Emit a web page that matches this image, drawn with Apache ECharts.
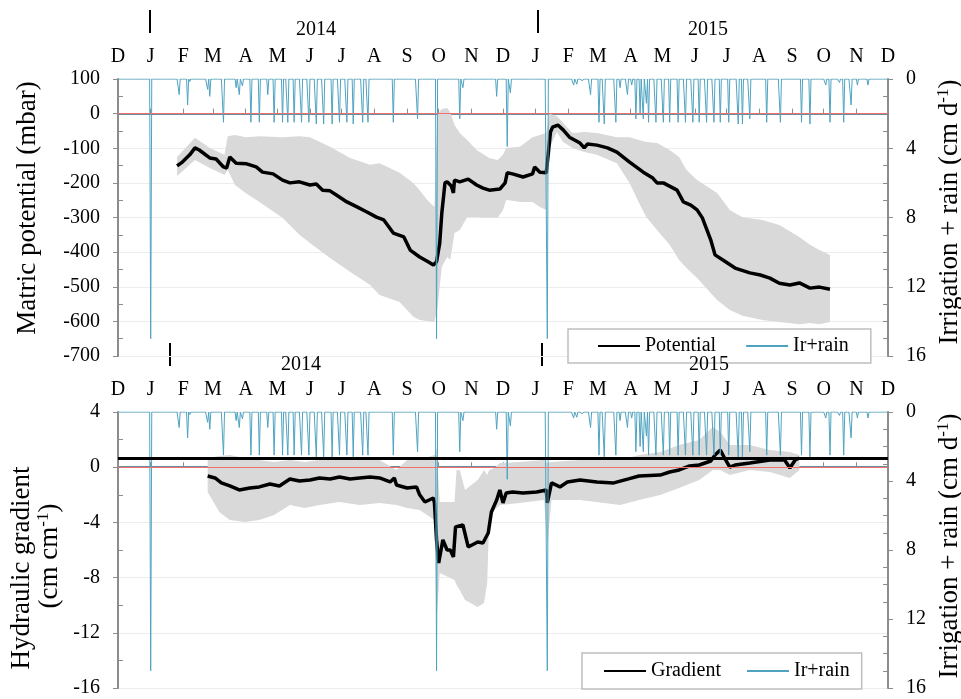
<!DOCTYPE html>
<html>
<head>
<meta charset="utf-8">
<script src="https://cdn.jsdelivr.net/npm/echarts@6/dist/echarts.min.js"></script>
<style>
html, body { margin: 0; padding: 0; background: #fff; }
#chart { width: 961px; height: 699px; }
</style>
</head>
<body>
<div id="chart"></div>
<script>
// irrigation + rain events (cm/d), all other days are 0
var irrDates = ['2014-01-01','2014-01-28','2014-02-05','2014-02-07','2014-02-24','2014-02-26','2014-03-11','2014-03-23','2014-03-26','2014-03-29',
  '2014-04-06','2014-04-14','2014-04-22','2014-04-28','2014-05-06','2014-05-11','2014-05-17','2014-05-24','2014-05-31','2014-06-07',
  '2014-06-14','2014-06-22','2014-06-29','2014-07-06','2014-07-12','2014-07-21','2014-07-26','2014-08-19','2014-09-11','2014-09-29',
  '2014-10-21','2014-10-24','2014-11-25','2014-12-05','2014-12-08','2015-01-12','2015-02-06','2015-02-09','2015-02-14','2015-02-22',
  '2015-03-02','2015-03-07','2015-03-18','2015-03-22','2015-03-29','2015-04-02','2015-04-06','2015-04-10','2015-04-13','2015-04-16',
  '2015-04-18','2015-04-25','2015-05-02','2015-05-08','2015-05-16','2015-05-23','2015-05-30','2015-06-05','2015-06-12','2015-06-19',
  '2015-06-25','2015-07-03','2015-07-12','2015-07-16','2015-07-23','2015-08-08','2015-08-21','2015-09-10','2015-09-18','2015-10-03',
  '2015-10-07','2015-10-16','2015-10-20','2015-10-27','2015-11-02','2015-11-12'];
var irrVals = [15.0,0.9,1.5,0.15,0.6,1.0,2.5,0.5,0.9,0.4,
  2.5,2.5,0.9,2.5,2.5,2.5,2.5,2.5,2.5,2.6,
  2.6,2.6,2.5,2.5,2.6,2.5,2.5,2.5,2.3,15.0,
  2.3,0.5,1.0,3.9,0.8,15.0,0.35,0.3,0.1,0.9,
  2.5,2.6,2.5,0.5,0.9,0.35,2.3,2.0,2.3,1.4,
  2.5,2.5,2.5,2.5,2.5,2.5,2.5,2.5,2.5,2.5,
  2.5,2.5,2.6,2.6,2.3,2.5,2.5,2.5,2.6,0.35,
  2.5,0.2,2.5,1.5,0.35,0.35];

// matric potential (mbar)
var potDates = ['2014-01-26','2014-01-31','2014-02-07','2014-02-12','2014-02-16','2014-02-26','2014-03-04','2014-03-11','2014-03-14','2014-03-17',
  '2014-03-23','2014-04-02','2014-04-11','2014-04-17','2014-04-27','2014-05-06','2014-05-13','2014-05-22','2014-06-01','2014-06-07',
  '2014-06-13','2014-06-20','2014-06-26','2014-07-06','2014-07-16','2014-07-25','2014-08-03','2014-08-10','2014-08-19','2014-08-29',
  '2014-09-04','2014-09-13','2014-09-21','2014-09-26','2014-09-29','2014-10-02','2014-10-04','2014-10-07','2014-10-09','2014-10-13',
  '2014-10-15','2014-10-16','2014-10-21','2014-10-29','2014-11-06','2014-11-12','2014-11-18','2014-11-28','2014-12-03','2014-12-05',
  '2014-12-10','2014-12-20','2014-12-29','2014-12-31','2015-01-05','2015-01-11','2015-01-13','2015-01-15','2015-01-17','2015-01-22',
  '2015-01-27','2015-02-02','2015-02-12','2015-02-16','2015-02-19','2015-02-28','2015-03-10','2015-03-19','2015-03-31','2015-04-13',
  '2015-04-22','2015-04-26','2015-05-02','2015-05-15','2015-05-21','2015-05-28','2015-06-03','2015-06-08','2015-06-16','2015-06-20',
  '2015-06-30','2015-07-09','2015-07-23','2015-08-02','2015-08-11','2015-08-20','2015-08-30','2015-09-08','2015-09-18','2015-09-27',
  '2015-10-07'];
var potVals = [-151,-140,-119,-99,-105,-128,-131,-154,-157,-125,
  -143,-145,-154,-169,-174,-192,-200,-197,-206,-203,
  -221,-223,-235,-255,-270,-284,-299,-307,-345,-356,
  -394,-414,-428,-437,-428,-374,-287,-200,-197,-209,
  -229,-192,-197,-189,-206,-215,-221,-218,-200,-171,
  -174,-183,-174,-154,-169,-171,-114,-53,-39,-33,
  -47,-68,-85,-99,-88,-91,-99,-111,-140,-169,
  -186,-200,-200,-221,-255,-264,-278,-301,-365,-408,
  -428,-446,-460,-466,-475,-490,-495,-489,-504,-501,
  -507];

// range of potential (min / max of sensors)
var potBandDates = ['2014-01-26','2014-02-12','2014-02-26','2014-03-12','2014-03-15','2014-03-22','2014-04-01','2014-04-14','2014-05-06','2014-05-22',
  '2014-06-01','2014-06-20','2014-07-09','2014-07-28','2014-08-06','2014-08-25','2014-09-07','2014-09-13','2014-09-20','2014-09-27',
  '2014-09-30','2014-10-04','2014-10-09','2014-10-12','2014-10-16','2014-10-21','2014-10-28','2014-11-06','2014-11-18','2014-11-26',
  '2014-12-01','2014-12-04','2014-12-17','2014-12-29','2015-01-05','2015-01-11','2015-01-14','2015-01-21','2015-01-27','2015-02-05',
  '2015-02-16','2015-02-28','2015-03-19','2015-03-31','2015-04-09','2015-04-16','2015-04-26','2015-05-08','2015-05-17','2015-05-24',
  '2015-06-03','2015-06-22','2015-07-04','2015-07-16','2015-08-04','2015-08-20','2015-09-08','2015-09-18','2015-09-27','2015-10-07'];
var potBandLo = [-180,-134,-157,-177,-163,-206,-229,-255,-301,-350,
  -374,-417,-457,-495,-524,-544,-587,-596,-599,-602,
  -558,-443,-414,-423,-345,-336,-299,-299,-301,-301,
  -278,-249,-255,-255,-270,-278,-99,-53,-82,-99,
  -111,-119,-143,-200,-258,-299,-336,-379,-423,-446,
  -475,-538,-567,-584,-596,-602,-608,-605,-608,-602];
var potBandHi = [-125,-70,-99,-119,-65,-62,-68,-65,-68,-65,
  -68,-96,-128,-148,-143,-171,-200,-221,-249,-270,
  0,13,16,5,-33,-56,-76,-105,-128,-134,
  -119,-99,-96,-68,-62,-56,0,-7,-27,-56,
  -53,-56,-68,-68,-76,-82,-85,-105,-125,-163,
  -192,-229,-278,-299,-307,-322,-356,-379,-394,-408];

// hydraulic gradient (cm/cm)
var gradDates = ['2014-02-24','2014-03-03','2014-03-09','2014-03-17','2014-03-26','2014-04-05','2014-04-14','2014-04-24','2014-05-03','2014-05-13',
  '2014-05-22','2014-06-01','2014-06-10','2014-06-20','2014-06-29','2014-07-09','2014-07-18','2014-07-28','2014-08-06','2014-08-16',
  '2014-08-20','2014-08-22','2014-09-01','2014-09-10','2014-09-13','2014-09-18','2014-09-26','2014-09-27','2014-09-29','2014-10-01',
  '2014-10-05','2014-10-09','2014-10-12','2014-10-15','2014-10-17','2014-10-24','2014-10-29','2014-11-07','2014-11-12','2014-11-17',
  '2014-11-20','2014-11-25','2014-11-28','2014-12-01','2014-12-04','2014-12-10','2014-12-20','2015-01-02','2015-01-11','2015-01-12',
  '2015-01-16','2015-01-24','2015-01-31','2015-02-12','2015-02-28','2015-03-16','2015-03-30','2015-04-09','2015-04-29','2015-05-08',
  '2015-05-17','2015-05-27','2015-06-05','2015-06-16','2015-06-20','2015-06-25','2015-06-29','2015-07-04','2015-07-09','2015-07-23',
  '2015-08-11','2015-08-25','2015-08-30','2015-09-04','2015-09-08'];
var gradVals = [-0.64,-0.78,-1.14,-1.36,-1.65,-1.51,-1.43,-1.22,-1.36,-0.85,
  -1.0,-0.93,-0.78,-0.85,-0.71,-0.85,-0.78,-0.71,-0.78,-1.07,
  -0.78,-1.29,-1.51,-1.43,-2.0,-2.52,-2.23,-2.59,-5.27,-6.94,
  -5.27,-6.0,-6.0,-6.5,-4.33,-4.19,-5.78,-5.42,-5.49,-4.77,
  -3.25,-2.38,-1.65,-2.59,-1.87,-1.8,-1.87,-1.8,-1.65,-2.59,
  -1.14,-1.43,-1.07,-0.93,-1.07,-1.14,-0.85,-0.64,-0.57,-0.35,
  -0.2,0.09,0.16,0.45,0.88,1.25,0.67,0.0,0.16,0.3,
  0.52,0.52,-0.06,0.52,0.67];
var unitGradient = 0.65;

var gradBandDates = ['2014-02-24','2014-03-07','2014-03-17','2014-03-31','2014-04-14','2014-04-28','2014-05-13','2014-05-27','2014-06-10','2014-06-29',
  '2014-07-18','2014-08-06','2014-08-22','2014-09-01','2014-09-13','2014-09-27','2014-09-29','2014-10-02','2014-10-16','2014-10-18',
  '2014-10-21','2014-10-26','2014-11-07','2014-11-13','2014-11-16','2014-11-18','2014-11-23','2014-11-28','2014-12-17','2015-01-09',
  '2015-01-12','2015-01-16','2015-02-12','2015-03-22','2015-04-09','2015-04-29','2015-05-17','2015-06-05','2015-06-18','2015-06-25',
  '2015-07-04','2015-07-23','2015-08-11','2015-08-30','2015-09-08'];
var gradBandLo = [-1.8,-3.25,-3.83,-3.97,-3.83,-3.46,-2.74,-2.96,-2.74,-2.52,
  -2.74,-2.59,-2.74,-2.96,-3.1,-3.83,-11.07,-7.67,-8.17,-8.54,
  -8.9,-9.62,-10.13,-9.84,-8.39,-3.61,-3.1,-2.74,-2.59,-2.38,
  -5.64,-2.38,-2.38,-2.74,-2.38,-2.01,-1.51,-0.93,-0.2,-0.2,
  -0.57,-0.2,-0.35,-0.78,-0.2];
var gradBandHi = [0.67,0.81,0.88,0.67,0.52,0.38,0.52,0.38,0.52,0.67,
  0.52,0.52,-0.2,0.52,0.52,0.88,1.39,-2.52,-2.52,-0.2,
  -0.2,-1.65,-0.93,-0.2,-0.57,-0.2,-0.06,0.3,0.38,0.52,
  0.3,0.38,0.52,0.52,0.88,1.1,1.61,1.97,2.91,2.55,
  1.61,1.61,1.25,1.1,0.88];

var monthLetters = ['J','F','M','A','M','J','J','A','S','O','N','D'];
var xStart = '2013-12-01', xEnd = '2015-12-01';

var serif = 'Liberation Serif';
var axisGray = '#8c8c8c';
var irrColor = '#4fa3c0';

function pad(n) { return n < 10 ? '0' + n : '' + n; }
function zip(a, b) { return a.map(function (d, i) { return [d, b[i]]; }); }
function diff(hi, lo) { return hi.map(function (v, i) { return +(v - lo[i]).toFixed(2); }); }

function dailyIrr() {
  var map = {};
  irrDates.forEach(function (d, i) { map[d] = irrVals[i]; });
  var out = [];
  var t = new Date(2013, 11, 1);
  var end = new Date(2015, 11, 1);
  while (t <= end) {
    var key = t.getFullYear() + '-' + pad(t.getMonth() + 1) + '-' + pad(t.getDate());
    out.push([key, map[key] || 0]);
    t.setDate(t.getDate() + 1);
  }
  return out;
}
var irrData = dailyIrr();

function xAxisFor(grid) {
  return {
    type: 'time', gridIndex: grid, position: 'top',
    min: xStart, max: xEnd,
    minInterval: 28 * 86400000, maxInterval: 31 * 86400000,
    axisLine: { show: true, lineStyle: { color: '#6b8e98', width: 2 } },
    axisTick: { show: true, length: 5, lineStyle: { color: axisGray } },
    splitLine: { show: false },
    axisLabel: {
      show: true, interval: 0, margin: 12, showMinLabel: true, showMaxLabel: true, hideOverlap: false,
      fontFamily: serif, fontSize: 20, color: '#000',
      formatter: function (val) {
        var d = new Date(val);
        return d.getDate() === 1 ? monthLetters[d.getMonth()] : '';
      }
    }
  };
}

function leftAxis(grid, min, max, interval, minorSplit) {
  return {
    type: 'value', gridIndex: grid, position: 'left',
    min: min, max: max, interval: interval,
    axisLine: { show: true, lineStyle: { color: axisGray, width: 2 } },
    axisTick: { show: true, length: 5, lineStyle: { color: axisGray } },
    minorTick: { show: true, splitNumber: minorSplit, length: -5, lineStyle: { color: axisGray } },
    splitLine: { show: true, lineStyle: { color: '#ececec', width: 1 } },
    axisLabel: { margin: 18, fontFamily: serif, fontSize: 20, color: '#000' }
  };
}

function rightAxis(grid) {
  return {
    type: 'value', gridIndex: grid, position: 'right', inverse: true,
    min: 0, max: 16, interval: 4,
    axisLine: { show: true, lineStyle: { color: axisGray, width: 2 } },
    axisTick: { show: true, length: 5, lineStyle: { color: axisGray } },
    minorTick: { show: true, splitNumber: 4, length: -5, lineStyle: { color: axisGray } },
    splitLine: { show: false },
    axisLabel: { margin: 18, fontFamily: serif, fontSize: 20, color: '#000' }
  };
}

function legendFor(names, left, top, pads, gap) {
  return {
    data: names, left: left, top: top, orient: 'horizontal',
    itemWidth: 42, itemHeight: 14, itemGap: gap, padding: pads,
    borderColor: '#bfbfbf', borderWidth: 1.5, backgroundColor: '#fff',
    selectedMode: false,
    itemStyle: { opacity: 0, borderWidth: 0 },
    textStyle: { fontFamily: serif, fontSize: 20, color: '#000' }
  };
}

function titleText(x, y, txt) {
  return {
    type: 'text', x: x, y: y, rotation: Math.PI / 2,
    style: {
      text: txt, fontFamily: serif, fontSize: 27, fill: '#000',
      align: 'center', verticalAlign: 'middle',
      rich: {
        n: { fontFamily: serif, fontSize: 27, lineHeight: 30 },
        s: { fontFamily: serif, fontSize: 17, lineHeight: 30, verticalAlign: 'top' }
      }
    }
  };
}

function yearMark(x, y1, y2) {
  return { type: 'line', shape: { x1: x, y1: y1, x2: x, y2: y2 }, style: { stroke: '#000', lineWidth: 2 } };
}
function yearText(x, y, txt) {
  return { type: 'text', x: x, y: y, style: { text: txt, fontFamily: serif, fontSize: 20, fill: '#000', align: 'center', verticalAlign: 'middle' }, z: 100 };
}

var chart = echarts.init(document.getElementById('chart'));
chart.setOption({
  animation: false,
  backgroundColor: '#fff',
  grid: [
    { left: 118, top: 79, width: 770, height: 277 },
    { left: 118, top: 412, width: 770, height: 276 }
  ],
  xAxis: [xAxisFor(0), xAxisFor(1)],
  yAxis: [
    leftAxis(0, -700, 100, 100, 2),
    rightAxis(0),
    leftAxis(1, -16, 4, 4, 2),
    rightAxis(1)
  ],
  legend: [
    legendFor(['Potential', 'Ir+rain'], 568, 329, [7, 22, 7, 29], 29),
    legendFor(['Gradient', 'Ir+rain'], 582, 653, [8, 12, 8, 21], 25)
  ],
  series: [
    { name: 'potLo', type: 'line', xAxisIndex: 0, yAxisIndex: 0, stack: 'pb', stackStrategy: 'all', symbol: 'none',
      lineStyle: { opacity: 0 }, data: zip(potBandDates, potBandLo), silent: true },
    { name: 'potBand', type: 'line', xAxisIndex: 0, yAxisIndex: 0, stack: 'pb', stackStrategy: 'all', symbol: 'none',
      lineStyle: { opacity: 0 }, areaStyle: { color: '#d9d9d9', opacity: 1 },
      data: zip(potBandDates, diff(potBandHi, potBandLo)), silent: true },
    { name: 'Potential', type: 'line', xAxisIndex: 0, yAxisIndex: 0, symbol: 'none',
      lineStyle: { color: '#000', width: 3.5 }, itemStyle: { color: '#000' },
      data: zip(potDates, potVals),
      markLine: { silent: true, symbol: 'none', label: { show: false },
        lineStyle: { color: '#f07070', width: 1, type: 'solid' }, data: [{ yAxis: 0 }] } },
    { name: 'Ir+rain', type: 'line', xAxisIndex: 0, yAxisIndex: 1, symbol: 'none',
      lineStyle: { color: irrColor, width: 1 }, itemStyle: { color: irrColor }, data: irrData },

    { name: 'gradLo', type: 'line', xAxisIndex: 1, yAxisIndex: 2, stack: 'gb', stackStrategy: 'all', symbol: 'none',
      lineStyle: { opacity: 0 }, data: zip(gradBandDates, gradBandLo), silent: true },
    { name: 'gradBand', type: 'line', xAxisIndex: 1, yAxisIndex: 2, stack: 'gb', stackStrategy: 'all', symbol: 'none',
      lineStyle: { opacity: 0 }, areaStyle: { color: '#d9d9d9', opacity: 1 },
      data: zip(gradBandDates, diff(gradBandHi, gradBandLo)), silent: true },
    { name: 'Gradient', type: 'line', xAxisIndex: 1, yAxisIndex: 2, symbol: 'none',
      lineStyle: { color: '#000', width: 3.5 }, itemStyle: { color: '#000' },
      data: zip(gradDates, gradVals),
      markLine: { silent: true, symbol: 'none', label: { show: false },
        data: [
          { yAxis: 0, lineStyle: { color: '#f07070', width: 1, type: 'solid' } },
          { yAxis: unitGradient, lineStyle: { color: '#000', width: 3, type: 'solid' } }
        ] } },
    { name: 'Ir+rain', type: 'line', xAxisIndex: 1, yAxisIndex: 3, symbol: 'none',
      lineStyle: { color: irrColor, width: 1 }, itemStyle: { color: irrColor }, data: irrData }
  ],
  graphic: [
    yearMark(150, 10, 33), yearMark(538, 10, 33),
    yearMark(170, 343, 366), yearMark(542, 343, 366),
    yearText(316, 30, '2014'), yearText(708, 30, '2015'),
    yearText(301, 365, '2014'), yearText(709, 365, '2015'),
    titleText(28, 208, '{n|Matric potential (mbar)}'),
    titleText(950, 212, '{n|Irrigation + rain (cm d}{s|-1}{n|)}'),
    titleText(22, 568, '{n|Hydraulic gradient}'),
    titleText(50, 556, '{n|(cm cm}{s|-1}{n|)}'),
    titleText(950, 546, '{n|Irrigation + rain (cm d}{s|-1}{n|)}')
  ]
});
</script>
</body>
</html>
